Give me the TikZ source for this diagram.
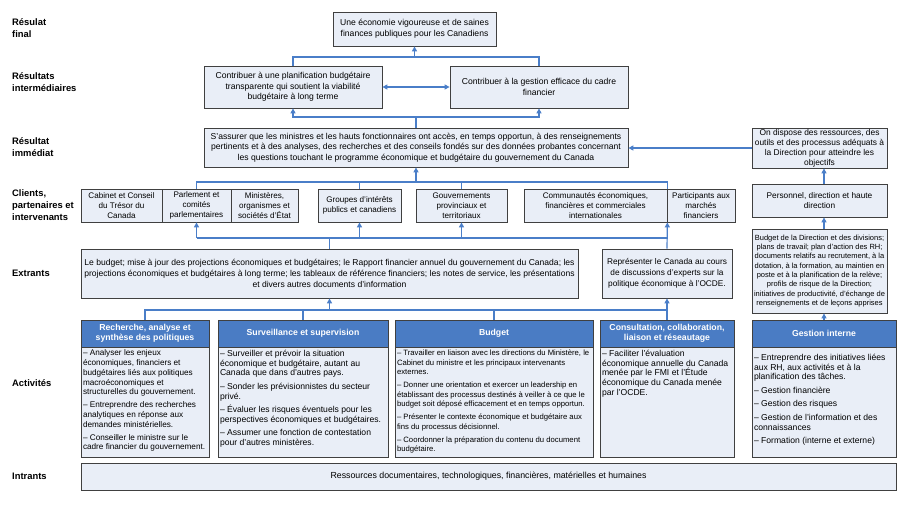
\documentclass[tikz,border=0pt]{standalone}
\usepackage{fontspec}
\setmainfont{Liberation Sans}
\usepackage{tikz}
\usepackage{xcolor}
\usetikzlibrary{arrows.meta, positioning}
\definecolor{boxfill}{HTML}{E9EEF7}
\definecolor{boxline}{HTML}{404040}
\definecolor{headfill}{HTML}{4A7CC4}
\definecolor{linkblue}{HTML}{4A7EC8}

\begin{document}
\begin{tikzpicture}[x=1pt, y=-1pt,
    box/.style={draw=boxline, fill=boxfill, line width=0.8pt, align=center, inner sep=1pt, font=\fontsize{8.6}{10.7}\selectfont},
    client/.style={box, font=\fontsize{8.1}{10}\selectfont},
    dims/.style 2 args={minimum width=#1pt, minimum height=#2pt},
    head/.style={draw=boxline, fill=headfill, text=white, line width=0.8pt, align=center, inner sep=1pt, font=\bfseries\fontsize{8.7}{10.3}\selectfont},
    actbody/.style={draw=boxline, fill=boxfill, line width=0.8pt, inner sep=2pt, anchor=north west, font=\fontsize{8.6}{9.9}\selectfont},
    lbl/.style={anchor=west, align=left, inner sep=0pt, font=\bfseries\fontsize{9.4}{12.3}\selectfont},
    link/.style={draw=linkblue, line width=1.2pt},
    arr/.style={link, -{Triangle[length=5pt, width=5pt]}},
    dbl/.style={link, {Triangle[length=5pt, width=5pt]}-{Triangle[length=5pt, width=5pt]}}]

    \useasboundingbox (0,0) rectangle (900,506);

    % row labels
    \node[lbl] (lfin) at (12,28) {Résulat\\final};
    \node[lbl] (linter) at (12,82) {Résultats\\intermédiaires};
    \node[lbl] (limmed) at (12,147) {Résultat\\immédiat};
    \node[lbl] (lclients) at (12,205) {Clients,\\partenaires et\\intervenants};
    \node[lbl] (lextrants) at (12,273) {Extrants};
    \node[lbl] (lactiv) at (12,383) {Activités};
    \node[lbl] (lintrants) at (12,476) {Intrants};

    % results
    \node[box, dims={163}{34}] (fin) at (414.5,29) {Une économie vigoureuse et de saines\\finances publiques pour les Canadiens};
    \node[box, dims={178}{42}] (inter1) at (293,87) {Contribuer à une planification budgétaire\\transparente qui soutient la viabilité\\budgétaire à long terme};
    \node[box, dims={178}{42}] (inter2) at (539,87) {Contribuer à la gestion efficace du cadre\\financier};
    \node[box, dims={424}{39}] (immed) at (416,147.5) {S’assurer que les ministres et les hauts fonctionnaires ont accès, en temps opportun, à des renseignements\\pertinents et à des analyses, des recherches et des conseils fondés sur des données probantes concernant\\les questions touchant le programme économique et budgétaire du gouvernement du Canada};
    \node[box, dims={135}{40}, font=\fontsize{8.4}{10}\selectfont] (dispose) at (819.5,148) {On dispose des ressources, des\\outils et des processus adéquats à\\la Direction pour atteindre les\\objectifs};
    \node[box, dims={135}{33}, font=\fontsize{8.3}{10.5}\selectfont] (personnel) at (819.5,200.5) {Personnel, direction et haute\\direction};
    \node[box, dims={135}{84}, font=\fontsize{7.5}{9.3}\selectfont] (budgdir) at (819.5,271) {Budget de la Direction et des divisions;\\plans de travail; plan d’action des RH;\\documents relatifs au recrutement, à la\\dotation, à la formation, au maintien en\\poste et à la planification de la relève;\\profils de risque de la Direction;\\initiatives de productivité, d’échange de\\renseignements et de leçons apprises};

    % clients
    \node[client, dims={81}{33}] (cabinet) at (121.5,205.5) {Cabinet et Conseil\\du Trésor du\\Canada};
    \node[client, dims={69}{33}] (parlement) at (196.5,205.5) {Parlement et\\comités\\parlementaires};
    \node[client, dims={67}{33}] (ministeres) at (264.5,205.5) {Ministères,\\organismes et\\sociétés d’État};
    \node[client, dims={83}{33}] (groupes) at (359.5,205.5) {Groupes d’intérêts\\publics et canadiens};
    \node[client, dims={91}{33}] (gouv) at (461.5,205.5) {Gouvernements\\provinciaux et\\territoriaux};
    \node[client, dims={143}{33}] (commun) at (595.5,205.5) {Communautés économiques,\\financières et commerciales\\internationales};
    \node[client, dims={68}{33}] (particip) at (701,205.5) {Participants aux\\marchés\\financiers};

    % outputs
    \node[box, dims={497}{49}, font=\fontsize{8.55}{10.7}\selectfont] (extrants) at (329.5,273.5) {Le budget; mise à jour des projections économiques et budgétaires; le Rapport financier annuel du gouvernement du Canada; les\\projections économiques et budgétaires à long terme; les tableaux de référence financiers; les notes de service, les présentations\\et divers autres documents d’information};
    \node[box, dims={130}{49}, font=\fontsize{8.3}{10.7}\selectfont] (represent) at (667,273.5) {Représenter le Canada au cours\\de discussions d’experts sur la\\politique économique à l’OCDE.};

    % activities
    \node[head, dims={128}{27}] (recherche) at (145,333.5) {Recherche, analyse et\\synthèse des politiques};
    \node[head, dims={170}{27}] (surv) at (303,333.5) {Surveillance et supervision};
    \node[head, dims={198}{27}] (budget) at (494,333.5) {Budget};
    \node[head, dims={134}{27}] (consult) at (667,333.5) {Consultation, collaboration,\\liaison et réseautage};
    \node[head, dims={144}{27}] (gestion) at (824,333.5) {Gestion interne};

    \node[actbody, font=\fontsize{8.2}{9.8}\selectfont] (rechercheTxt) at (recherche.south west) {\parbox[t][106pt][t]{124pt}{\raggedright
        – Analyser les enjeux\\économiques, financiers et\\budgétaires liés aux politiques\\macroéconomiques et\\structurelles du gouvernement.\\[3pt]
        – Entreprendre des recherches\\analytiques en réponse aux\\demandes ministérielles.\\[3pt]
        – Conseiller le ministre sur le\\cadre financier du gouvernement.}};
    \node[actbody] (survTxt) at (surv.south west) {\parbox[t][106pt][t]{166pt}{\raggedright
        – Surveiller et prévoir la situation\\économique et budgétaire, autant au\\Canada que dans d’autres pays.\\[3.5pt]
        – Sonder les prévisionnistes du secteur\\privé.\\[3.5pt]
        – Évaluer les risques éventuels pour les\\perspectives économiques et budgétaires.\\[3.5pt]
        – Assumer une fonction de contestation\\pour d’autres ministères.}};
    \node[actbody, font=\fontsize{7.7}{9.7}\selectfont] (budgetTxt) at (budget.south west) {\parbox[t][106pt][t]{194pt}{\raggedright
        – Travailler en liaison avec les directions du Ministère, le\\Cabinet du ministre et les principaux intervenants\\externes.\\[3pt]
        – Donner une orientation et exercer un leadership en\\établissant des processus destinés à veiller à ce que le\\budget soit déposé efficacement et en temps opportun.\\[3pt]
        – Présenter le contexte économique et budgétaire aux\\fins du processus décisionnel.\\[3pt]
        – Coordonner la préparation du contenu du document\\budgétaire.}};
    \node[actbody] (consultTxt) at (consult.south west) {\parbox[t][106pt][t]{130pt}{\raggedright
        – Faciliter l’évaluation\\économique annuelle du Canada\\menée par le FMI et l’Étude\\économique du Canada menée\\par l’OCDE.}};
    \node[actbody] (gestionTxt) at (gestion.south west) {\parbox[t][106pt][t]{140pt}{\raggedright
        \vspace*{4pt}– Entreprendre des initiatives liées\\aux RH, aux activités et à la\\planification des tâches.\\[3.5pt]
        – Gestion financière\\[3.5pt]
        – Gestion des risques\\[3.5pt]
        – Gestion de l’information et des\\connaissances\\[3.5pt]
        – Formation (interne et externe)}};

    % inputs
    \node[box, dims={815}{27}, font=\fontsize{8.8}{10.7}\selectfont] (intrants) at (488.5,476.5) {Ressources documentaires, technologiques, financières, matérielles et humaines};

    % bus levels
    \coordinate (busA) at (0,57);
    \coordinate (busB) at (0,117);
    \coordinate (busC) at (0,182);
    \coordinate (busD) at (0,238);
    \coordinate (busE) at (0,310);

    % links
    \draw[link] (inter1.north) |- (inter2.north |- busA) -- (inter2.north);
    \draw[arr] (fin.south |- busA) -- (fin.south);
    \draw[dbl] (inter1) -- (inter2);
    \draw[arr] (immed.north) |- (inter1.south |- busB) -- (inter1.south);
    \draw[arr] (immed.north) |- (inter2.south |- busB) -- (inter2.south);
    \draw[arr] (dispose.west) -- (dispose.west -| immed.east);
    \draw[arr] (personnel.north -| gestion.north) -- (dispose.south -| gestion.north);
    \draw[arr] (budgdir.north -| gestion.north) -- (personnel.south -| gestion.north);
    \draw[arr] (gestion.north) -- (budgdir.south -| gestion.north);

    \draw[link] (parlement.north) |- (commun.north east |- busC) -- (commun.north east);
    \foreach \n in {groupes, gouv}
        \draw[link] (\n.north) -- (\n.north |- busC);
    \draw[arr] (immed.south |- busC) -- (immed.south);

    \draw[link] (parlement.south |- busD) -- (commun.south east |- busD);
    \foreach \n in {parlement, groupes, gouv}
        \draw[arr] (\n.south |- busD) -- (\n.south);
    \draw[arr] (represent.north) -- (commun.south east);
    \draw[link] (extrants.north) -- (extrants.north |- busD);

    \draw[link] (recherche.north) |- (consult.north |- busE) -- (consult.north);
    \foreach \n in {surv, budget}
        \draw[link] (\n.north) -- (\n.north |- busE);
    \draw[arr] (extrants.south |- busE) -- (extrants.south);
    \draw[arr] (represent.south |- busE) -- (represent.south);

\end{tikzpicture}
\end{document}
